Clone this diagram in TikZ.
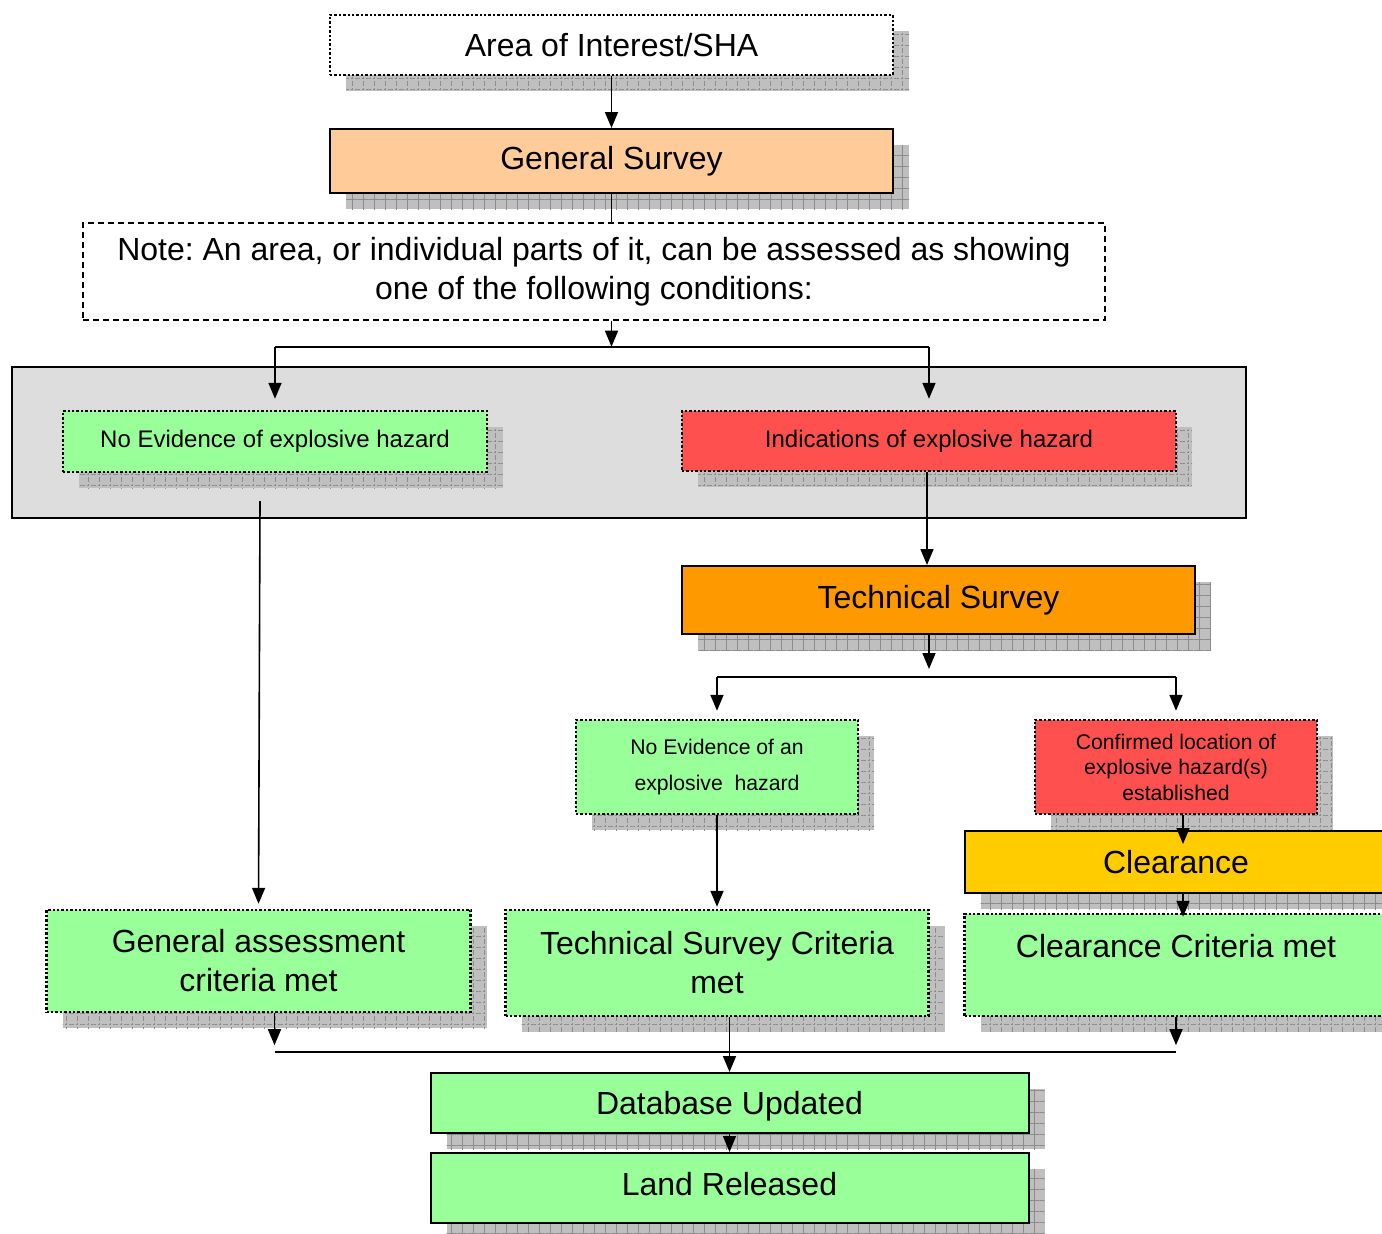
\documentclass[tikz,border=0pt]{standalone}
\usepackage{fontspec}
\setmainfont{Liberation Sans}
\usetikzlibrary{arrows.meta,shadows,patterns.meta}
\frenchspacing

\definecolor{peach}{HTML}{FFCC99}
\definecolor{lgreen}{HTML}{99FF99}
\definecolor{lred}{HTML}{FF5050}
\definecolor{dorange}{HTML}{FF9900}
\definecolor{gold}{HTML}{FFCC00}
\definecolor{panelgray}{HTML}{DDDDDD}

\newcommand{\bigtxt}{\fontsize{16}{19.5}\selectfont}
\newcommand{\midtxt}{\fontsize{12}{14.4}\selectfont}
\newcommand{\smalltxt}{\fontsize{10.6}{12.75}\selectfont}

\tikzstyle{shad}    = [drop shadow={shadow xshift=8pt,shadow yshift=-8pt,opacity=1,fill=black!25,
                       postaction={pattern={Hatch[angle=0,distance=5.5pt,line width=0.4pt]},pattern color=black!45}}]
\tikzstyle{dotbox}  = [draw,rectangle,line width=1.2pt,dash pattern=on 1.2pt off 1pt,inner sep=0pt,align=center,shad]
\tikzstyle{solbox}  = [draw,rectangle,line width=1pt,inner sep=0pt,align=center,shad]
\tikzstyle{wblock}  = [dotbox,fill=white,minimum width=281.5pt,minimum height=30pt,font=\bigtxt]
\tikzstyle{pblock}  = [solbox,fill=peach,minimum width=281.5pt,minimum height=32pt,font=\bigtxt]
\tikzstyle{nblock}  = [draw,rectangle,line width=0.7pt,dash pattern=on 3pt off 2pt,inner sep=0pt,align=center,minimum width=511pt,minimum height=48.5pt,font=\bigtxt]
\tikzstyle{panel}   = [draw,rectangle,line width=0.9pt,fill=panelgray,inner sep=0pt,minimum width=617pt,minimum height=75.5pt]
\tikzstyle{gblock}  = [dotbox,fill=lgreen,minimum width=212pt,minimum height=30.5pt,font=\midtxt]
\tikzstyle{rblock}  = [dotbox,fill=lred,minimum width=247pt,minimum height=30pt,font=\midtxt]
\tikzstyle{oblock}  = [solbox,fill=dorange,minimum width=256.5pt,minimum height=34pt,font=\bigtxt]
\tikzstyle{gsblock} = [dotbox,fill=lgreen,minimum width=141pt,minimum height=47pt,font=\smalltxt]
\tikzstyle{rsblock} = [dotbox,fill=lred,minimum width=141pt,minimum height=47pt,font=\smalltxt]
\tikzstyle{yblock}  = [solbox,fill=gold,minimum width=211.5pt,minimum height=31pt,font=\bigtxt]
\tikzstyle{gbblock} = [dotbox,fill=lgreen,minimum width=212pt,minimum height=51pt,font=\bigtxt]
\tikzstyle{dblock}  = [solbox,fill=lgreen,minimum width=299pt,minimum height=30pt,font=\bigtxt]
\tikzstyle{link}    = [draw,line width=0.8pt]
\tikzstyle{flow}    = [link,-{Triangle[length=8pt,width=6.5pt]}]

\begin{document}
\begin{tikzpicture}
			\useasboundingbox (0,0) rectangle (691pt,-616.5pt);
			\node [wblock] (area) at (305.75pt,-22.5pt) {Area of Interest/SHA};
			\node [pblock,node distance=58pt,below of=area] (gen survey) {General Survey};
			\node [nblock,node distance=55.25pt,below of=gen survey,xshift=-8.75pt] (note) {Note: An area, or individual parts of it, can be assessed as showing\\one of the following conditions:};
			\node [panel,node distance=85.5pt,below of=note,xshift=17.5pt] (panel) {};
			\node [gblock,node distance=85.5pt,below of=note,xshift=-159.5pt,yshift=0.5pt] (no ev 1) {No Evidence of explosive hazard};
			\node [rblock,node distance=85.5pt,below of=note,xshift=167.5pt,yshift=0.75pt] (ind 1) {Indications of explosive hazard};
			\node [oblock,node distance=79.5pt,below of=ind 1,xshift=4.75pt] (tech survey) {Technical Survey};
			\node [gsblock,node distance=83.5pt,below of=tech survey,xshift=-110.75pt] (no ev 2) {No Evidence of an\\[5pt]explosive\ \ hazard};
			\node [rsblock,node distance=229.5pt,right of=no ev 2] (conf 2) {Confirmed location of\\explosive hazard(s)\\established};
			\node [yblock,node distance=47.5pt,below of=conf 2] (clear) {Clearance};
			\node [gbblock,node distance=51.5pt,below of=clear,minimum width=211.5pt] (clear met) {Clearance Criteria met\\\mbox{}};
			\node [gbblock,node distance=98pt,below of=no ev 2,minimum width=211.5pt,minimum height=53pt] (tech met) {Technical Survey Criteria\\met};
			\node [gbblock,node distance=229.25pt,left of=tech met,yshift=1pt] (gen met) {General assessment\\criteria met};
			\node [dblock,node distance=70pt,below of=tech met,xshift=6.25pt,text height=15pt] (db) {Database Updated};
			\node [dblock,node distance=42.5pt,below of=db,minimum height=35pt,text depth=4pt] (land) {Land Released};

			% split points
			\path (gen survey.south |- note.south) ++(0,-13pt) coordinate (split 1);
			\path (tech survey.south -| ind 1.south) ++(0,-21pt) coordinate (split 2);
			\path (gen met.south) ++(8pt,-19.5pt) coordinate (split 3);

			\draw [flow] (area) -- (gen survey);
			\draw [link] (gen survey) -- (gen survey.south |- note.north);
			\draw [flow] (gen survey.south |- note.south) -- (split 1);
			\draw [link] (split 1 -| no ev 1) -- (split 1 -| ind 1);
			\draw [flow,shorten >=5.5pt] (split 1 -| no ev 1) -- (no ev 1);
			\draw [flow,shorten >=5.5pt] (split 1 -| ind 1) -- (ind 1);
			\draw [flow,shorten >=2.5pt] ([xshift=-7.5pt,yshift=-14pt]no ev 1.south) -- (gen met.north);
			\draw [flow] ([xshift=-1pt]ind 1.south) -- ([xshift=-1pt]ind 1.south |- tech survey.north);
			\draw [flow,shorten >=4pt] (tech survey.south -| ind 1.south) -- (split 2);
			\draw [link] (split 2 -| no ev 2) -- (split 2 -| conf 2);
			\draw [flow,shorten >=4pt] (split 2 -| no ev 2) -- (no ev 2);
			\draw [flow,shorten >=4pt] (split 2 -| conf 2) -- (conf 2);
			\draw [flow,shorten >=-7pt] ([xshift=3.5pt]conf 2.south) -- ([xshift=3.5pt]clear.north);
			\draw [flow,shorten >=-2pt] ([xshift=3.5pt]clear.south) -- ([xshift=3.5pt]clear met.north);
			\draw [flow,shorten >=1pt] (no ev 2) -- (tech met);
			\draw [flow,shorten >=3.5pt] ([xshift=8pt]gen met.south) -- (split 3);
			\draw [link] (split 3) -- (split 3 -| clear met);
			\draw [flow,shorten >=3.5pt] (clear met) -- (split 3 -| clear met);
			\draw [flow] (tech met.south -| db.north) -- (db.north);
			\draw [flow] (db) -- (land);
\end{tikzpicture}
\end{document}
